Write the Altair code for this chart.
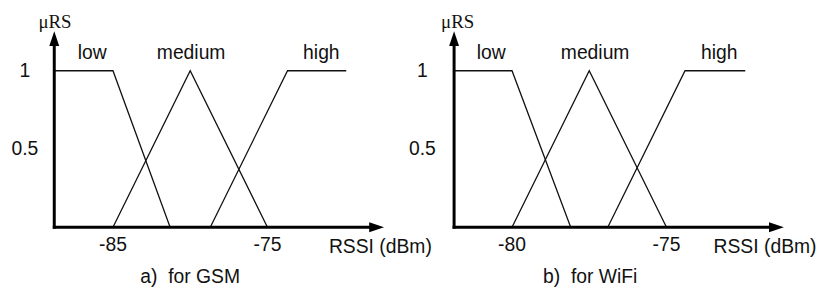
import altair as alt
import pandas as pd

# ---------------- data ----------------
# RSSI breakpoints (dBm) of each fuzzy set, membership values μRS
set_names = ["low", "medium", "high"]
gsm_low_rssi = [-88.8, -85.0, -81.3]
gsm_medium_rssi = [-85.0, -80.0, -75.0]
gsm_high_rssi = [-78.7, -73.7, -69.9]
wifi_low_rssi = [-81.9, -80.0, -78.1]
wifi_medium_rssi = [-80.0, -77.5, -75.0]
wifi_high_rssi = [-76.9, -74.4, -72.45]
low_mu = [1.0, 1.0, 0.0]
medium_mu = [0.0, 1.0, 0.0]
high_mu = [0.0, 1.0, 1.0]
y_ticks = [1.0, 0.5]
gsm_x_ticks = [-85, -75]
wifi_x_ticks = [-80, -75]

# ---------------- annotation placement (data units) ----------------
gsm_ann = dict(axis_x=-88.8, tip_x=-67.45, ylab_x=-90.7, mu_x=-88.75,
               set_x=[-86.35, -79.94, -71.51], rssi_x=-67.69, cap_x=-80.0,
               caption="a)\u00a0 for GSM")
wifi_ann = dict(axis_x=-81.875, tip_x=-71.2, ylab_x=-82.9, mu_x=-81.76,
                set_x=[-80.67, -77.31, -73.29], rssi_x=-71.81, cap_x=-77.47,
                caption="b)\u00a0 for WiFi")

Y_DOM = [-0.3165, 1.3924]
H = 270
SANS = "Liberation Sans"
SERIF = "Liberation Serif"
INK = "#111111"
TIP_MU = 1.253
ARROW_LEN = 15


def panel(rssi_lists, ann, x_dom, width, x_ticks):
    xs = alt.Scale(domain=x_dom, nice=False, zero=False)
    ys = alt.Scale(domain=Y_DOM, nice=False, zero=False)
    px_x = width / (x_dom[1] - x_dom[0])
    px_y = H / (Y_DOM[1] - Y_DOM[0])

    rows = []
    for name, xs_list, mus in zip(set_names, rssi_lists, [low_mu, medium_mu, high_mu]):
        for i, (xv, mv) in enumerate(zip(xs_list, mus)):
            rows.append({"set": name, "i": i, "x": xv, "mu": mv})
    curves = alt.Chart(pd.DataFrame(rows)).mark_line(
        color=INK, strokeWidth=1.3
    ).encode(
        x=alt.X("x:Q", scale=xs, axis=None),
        y=alt.Y("mu:Q", scale=ys, axis=None),
        detail="set:N",
        order=alt.Order("i:Q"),
    )

    y_base = TIP_MU - ARROW_LEN / px_y
    x_base = ann["tip_x"] - ARROW_LEN / px_x
    yaxis = alt.Chart(pd.DataFrame([{"x": ann["axis_x"], "mu": 0.0, "mu2": y_base}])).mark_rule(
        color="black", strokeWidth=3, strokeCap="square"
    ).encode(x=alt.X("x:Q", scale=xs, axis=None), y=alt.Y("mu:Q", scale=ys, axis=None), y2="mu2:Q")
    xaxis = alt.Chart(pd.DataFrame([{"x": ann["axis_x"], "x2": x_base, "mu": 0.0}])).mark_rule(
        color="black", strokeWidth=3, strokeCap="square"
    ).encode(x=alt.X("x:Q", scale=xs, axis=None), x2="x2:Q", y=alt.Y("mu:Q", scale=ys, axis=None))

    up = alt.Chart(pd.DataFrame([{"x": ann["axis_x"], "mu": TIP_MU}])).mark_point(
        shape="M0,0L0.333,1L-0.333,1Z", size=900, filled=True, color="black", opacity=1, strokeWidth=0
    ).encode(x=alt.X("x:Q", scale=xs, axis=None), y=alt.Y("mu:Q", scale=ys, axis=None))
    right = alt.Chart(pd.DataFrame([{"x": ann["tip_x"], "mu": 0.0}])).mark_point(
        shape="M0,0L-1,-0.333L-1,0.333Z", size=900, filled=True, color="black", opacity=1, strokeWidth=0
    ).encode(x=alt.X("x:Q", scale=xs, axis=None), y=alt.Y("mu:Q", scale=ys, axis=None))

    top_labels = pd.DataFrame({"x": ann["set_x"], "mu": [1.076] * 3, "t": set_names})
    top_text = alt.Chart(top_labels).mark_text(
        font=SANS, fontSize=19.5, color=INK, align="center", baseline="alphabetic"
    ).encode(x=alt.X("x:Q", scale=xs, axis=None), y=alt.Y("mu:Q", scale=ys, axis=None), text="t:N")

    mu_text = alt.Chart(pd.DataFrame([{"x": ann["mu_x"], "mu": 1.272, "t": "\u03bcRS"}])).mark_text(
        font=SERIF, fontSize=19, color=INK, align="center", baseline="alphabetic"
    ).encode(x=alt.X("x:Q", scale=xs, axis=None), y=alt.Y("mu:Q", scale=ys, axis=None), text="t:N")

    mids = []
    for v in y_ticks:
        mids.append({"x": ann["ylab_x"], "mu": v, "t": f"{v:g}"})
    for v in x_ticks:
        mids.append({"x": v, "mu": -0.114, "t": f"{v:g}"})
    mids.append({"x": ann["rssi_x"], "mu": -0.127, "t": "RSSI (dBm)"})
    mids.append({"x": ann["cap_x"], "mu": -0.316, "t": ann["caption"]})
    mid_text = alt.Chart(pd.DataFrame(mids)).mark_text(
        font=SANS, fontSize=19.5, color=INK, align="center", baseline="middle"
    ).encode(x=alt.X("x:Q", scale=xs, axis=None), y=alt.Y("mu:Q", scale=ys, axis=None), text="t:N")

    return alt.layer(curves, yaxis, xaxis, up, right, top_text, mu_text, mid_text).properties(
        width=width, height=H
    )


pa = panel([gsm_low_rssi, gsm_medium_rssi, gsm_high_rssi], gsm_ann, [-91.795, -65.385], 412, gsm_x_ticks)
pb = panel([wifi_low_rssi, wifi_medium_rssi, wifi_high_rssi], wifi_ann, [-83.109, -70.128], 405, wifi_x_ticks)

chart = alt.hconcat(pa, pb, spacing=0, bounds="flush", padding=0).configure_view(stroke=None)
chart.save("out.html", embed_options={"renderer": "svg", "actions": False})
